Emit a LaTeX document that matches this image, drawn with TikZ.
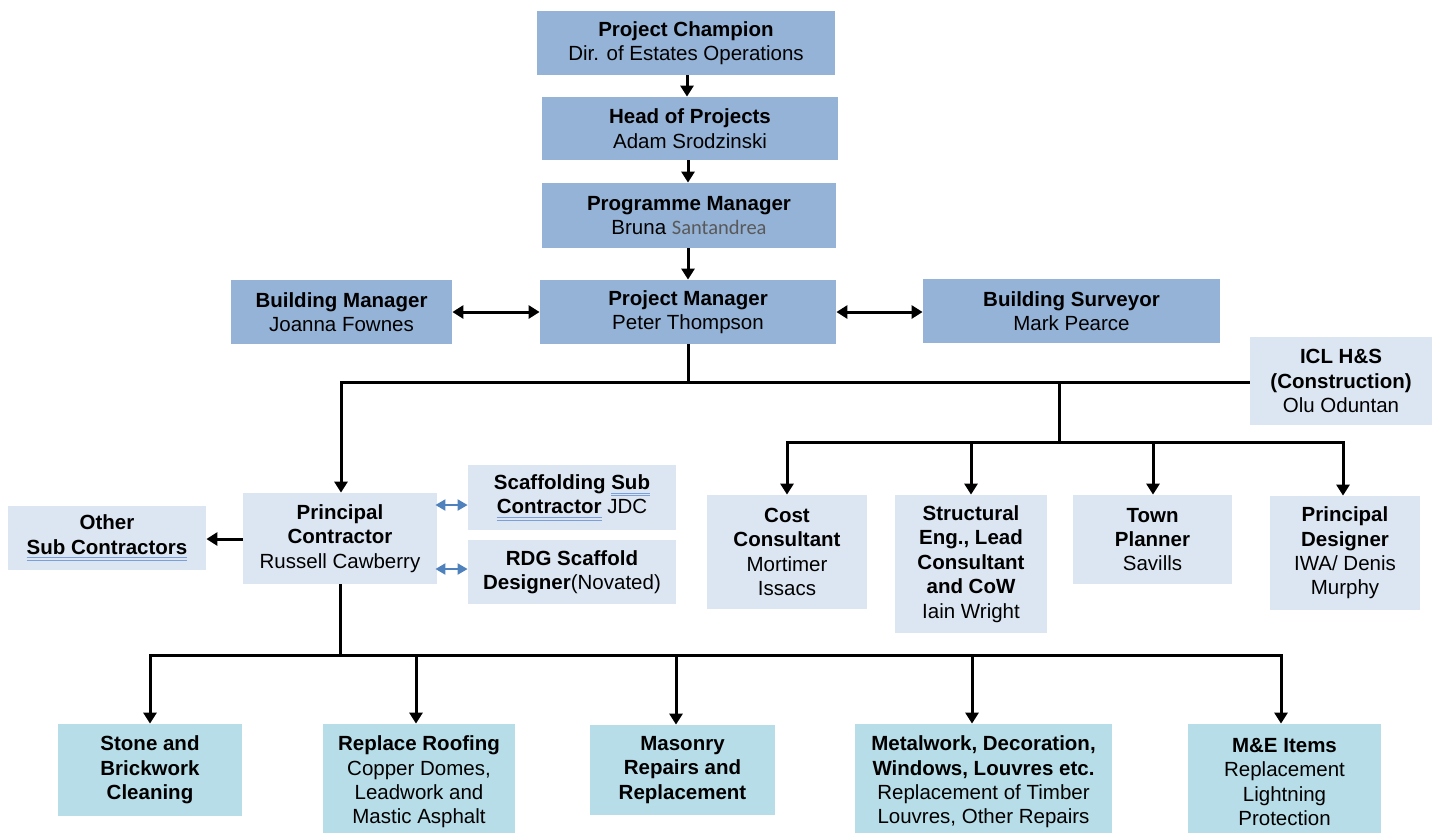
\documentclass[tikz,border=0pt]{standalone}
\usepackage{fontspec}
\setmainfont{Liberation Sans}
\newfontfamily\carlito{Carlito}
\usetikzlibrary{arrows.meta}
\definecolor{dkbox}{HTML}{95B3D7}
\definecolor{ltbox}{HTML}{DCE6F2}
\definecolor{tlbox}{HTML}{B7DDE8}
\definecolor{ulblue}{HTML}{7A9FDA}
\definecolor{dblarrow}{HTML}{4F81BD}
\definecolor{santgray}{HTML}{595959}
\newsavebox{\dulbox}
\newcommand{\dul}[1]{\sbox{\dulbox}{#1}\rlap{\raisebox{-2.2pt}{\color{ulblue}\rule{\wd\dulbox}{0.5pt}}}\rlap{\raisebox{-3.6pt}{\color{ulblue}\rule{\wd\dulbox}{0.5pt}}}\usebox{\dulbox}}
\begin{document}
\begin{tikzpicture}[x=0.5pt,y=-0.5pt,
  box/.style={rectangle, inner sep=0pt, align=center, font=\fontsize{10.25}{12.2}\selectfont},
  sz/.style 2 args={minimum width={(#1)*0.5pt}, minimum height={(#2)*0.5pt}},
  dark/.style={box, fill=dkbox},
  light/.style={box, fill=ltbox},
  teal/.style={box, fill=tlbox},
  conn/.style={line width=1.5pt, line join=miter},
  arr/.style={conn, -{Triangle[length=5.5pt,width=6.5pt]}},
  darr/.style={conn, {Triangle[length=5.5pt,width=6.5pt]}-{Triangle[length=5.5pt,width=6.5pt]}},
  barr/.style={line width=1pt, dblarrow, {Triangle[length=5pt,width=5.5pt]}-{Triangle[length=5pt,width=5.5pt]}}]
\useasboundingbox (0,0) rectangle (1438,832);
\clip (0,0) rectangle (1438,832);

% top chain
\node[dark, sz={298}{64}] (champ) at (686,43) {\textbf{Project Champion}\\Dir. of Estates Operations};
\node[dark, sz={296}{63}] (hop) at (690,128.5) {\textbf{Head of Projects}\\Adam Srodzinski};
\node[dark, sz={294}{65}] (prog) at (689,215.5) {\textbf{Programme Manager}\\Bruna {\carlito\color{santgray}Santandrea}};
\node[dark, sz={296}{64}] (pjm) at (688,312) {\textbf{Project Manager}\\Peter Thompson};
\node[dark, sz={221}{64}] (bm) at (341.5,312) {\textbf{Building Manager}\\Joanna Fownes};
\node[dark, sz={297}{64}] (bs) at (1071.5,311) {\textbf{Building Surveyor}\\Mark Pearce};
\node[light, sz={182}{88}] (icl) at (1341,381) {\textbf{ICL H\&S}\\\textbf{(Construction)}\\Olu Oduntan};

% contractor side
\node[light, sz={194}{91}] (pc) at (340,538.5) {\textbf{Principal}\\\textbf{Contractor}\\Russell Cawberry};
\node[light, sz={198}{64}] (other) at (107,538) {\textbf{Other}\\\textbf{\dul{Sub Contractors}}};
\node[light, sz={208}{65}] (scaf) at (572,497.5) {\textbf{Scaffolding \dul{Sub}}\\\textbf{\dul{Contractor}} JDC};
\node[light, sz={208}{64}] (rdg) at (572,572) {\textbf{RDG Scaffold}\\\textbf{Designer}(Novated)};

% consultants
\node[light, sz={160}{114}] (cost) at (787,552) {\textbf{Cost}\\\textbf{Consultant}\\Mortimer\\Issacs};
\node[light, sz={152}{138}] (struct) at (971,564) {\textbf{Structural}\\\textbf{Eng., Lead}\\\textbf{Consultant}\\\textbf{and CoW}\\Iain Wright};
\node[light, sz={159}{89}] (town) at (1152.5,539.5) {\textbf{Town}\\\textbf{Planner}\\Savills};
\node[light, sz={150}{114}] (pd) at (1345,553) {\textbf{Principal}\\\textbf{Designer}\\IWA/ Denis\\Murphy};

% works packages
\node[teal, sz={184}{92}] (stone) at (150,770) {\textbf{Stone and}\\\textbf{Brickwork}\\\textbf{Cleaning}};
\node[teal, sz={192}{116}] (roof) at (419,782) {\textbf{Replace Roofing}\\Copper Domes,\\Leadwork and\\Mastic Asphalt};
\node[teal, sz={185}{90}] (mason) at (682.5,770) {\textbf{Masonry}\\\textbf{Repairs and}\\\textbf{Replacement}};
\node[teal, sz={257}{116}] (metal) at (983.5,782) {\textbf{Metalwork, Decoration,}\\\textbf{Windows, Louvres etc.}\\Replacement of Timber\\Louvres, Other Repairs};
\node[teal, sz={193}{116}] (me) at (1284.5,782) {\textbf{M\&E Items}\\Replacement\\Lightning\\Protection};

% top arrows
\draw[arr] (champ.south -| 687,0) -- (hop.north -| 687,0);
\draw[arr] (hop.south -| 688,0) -- (prog.north -| 688,0);
\draw[arr] (prog.south -| 688,0) -- (pjm.north -| 688,0);
\draw[darr] (bm.east) -- (pjm.west);
\draw[darr] (pjm.east) -- (bs.west |- pjm.east);

% first bus
\coordinate (b1l) at (341,382);
\coordinate (b1m) at (688,382);
\coordinate (b1r) at (1059,382);
\draw[conn] (pjm.south -| b1m) -- (b1m);
\draw[arr] (icl.west |- b1l) -- (b1l) -- (b1l |- pc.north);

% consultants bus
\coordinate (b2m) at (1059,442);
\coordinate (b2l) at (787,442);
\coordinate (b2s) at (971,442);
\coordinate (b2t) at (1153,442);
\coordinate (b2r) at (1343,442);
\draw[conn] (b1r) -- (b2m);
\draw[arr] (b2m) -- (b2l) -- (b2l |- cost.north);
\draw[arr] (b2m) -- (b2r) -- (b2r |- pd.north);
\draw[arr] (b2s) -- (b2s |- struct.north);
\draw[arr] (b2t) -- (b2t |- town.north);

% contractor side arrows
\draw[arr] (pc.west |- 0,539) -- (other.east |- 0,539);
\draw[barr] ([xshift=-1pt]pc.east |- 0,505) -- (scaf.west |- 0,505);
\draw[barr] ([xshift=-1pt]pc.east |- 0,569) -- (rdg.west |- 0,569);

% works bus
\coordinate (b3m) at (340,655);
\coordinate (b3a) at (150,655);
\coordinate (b3b) at (416,655);
\coordinate (b3c) at (676,655);
\coordinate (b3d) at (972,655);
\coordinate (b3e) at (1281,655);
\draw[conn] (b3m |- pc.south) -- (b3m);
\draw[arr] (b3m) -- (b3a) -- (b3a |- stone.north);
\draw[arr] (b3m) -- (b3e) -- (b3e |- me.north);
\draw[arr] (b3b) -- (b3b |- roof.north);
\draw[arr] (b3c) -- (b3c |- mason.north);
\draw[arr] (b3d) -- (b3d |- metal.north);
\end{tikzpicture}
\end{document}
